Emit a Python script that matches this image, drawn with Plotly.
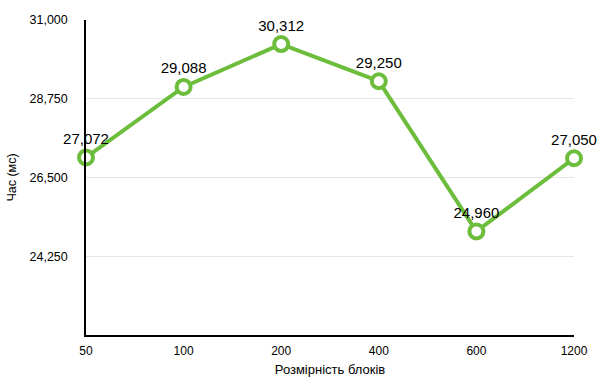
import plotly.graph_objects as go

categories = ["50", "100", "200", "400", "600", "1200"]
values = [27072, 29088, 30312, 29250, 24960, 27050]
y_ticks = [24250, 26500, 28750, 31000]

green = "#6CBD3B"
FONT = "Liberation Sans, Arial, sans-serif"

fig = go.Figure()
fig.add_trace(go.Scatter(
    x=list(range(len(categories))), y=values,
    mode="lines+markers+text",
    line=dict(color=green, width=4),
    marker=dict(size=14, color="white", line=dict(color=green, width=4)),
    text=[f"{v:,}" for v in values],
    textposition="top center",
    textfont=dict(family=FONT, size=15, color="black"),
    cliponaxis=False,
    hoverinfo="skip",
))

fig.update_layout(
    width=598, height=378,
    margin=dict(l=86, r=24, t=20, b=43),
    paper_bgcolor="white", plot_bgcolor="white",
    showlegend=False,
    font=dict(family=FONT, size=12, color="black"),
    xaxis=dict(
        range=[0, 5], tickmode="array",
        tickvals=list(range(len(categories))), ticktext=categories,
        showgrid=False, showline=True, linecolor="black", linewidth=1.5,
        zeroline=False, ticks="", ticklen=0, ticklabelstandoff=4,
        tickfont=dict(size=12),
        automargin=False,
        title=dict(text="Розмірність блоків", font=dict(size=13), standoff=8),
    ),
    yaxis=dict(
        range=[22000, 31000], tickmode="array", tickvals=y_ticks,
        ticktext=[f"{v:,}" for v in y_ticks],
        showgrid=True, gridcolor="#E6E6E6", gridwidth=1,
        showline=True, linecolor="black", linewidth=1.5,
        zeroline=False, ticks="", ticklabelstandoff=14,
        tickfont=dict(size=12.5),
        automargin=False,
        title=dict(text="Час (мс)", font=dict(size=12.5), standoff=10),
    ),
)

fig.write_html("out.html")
